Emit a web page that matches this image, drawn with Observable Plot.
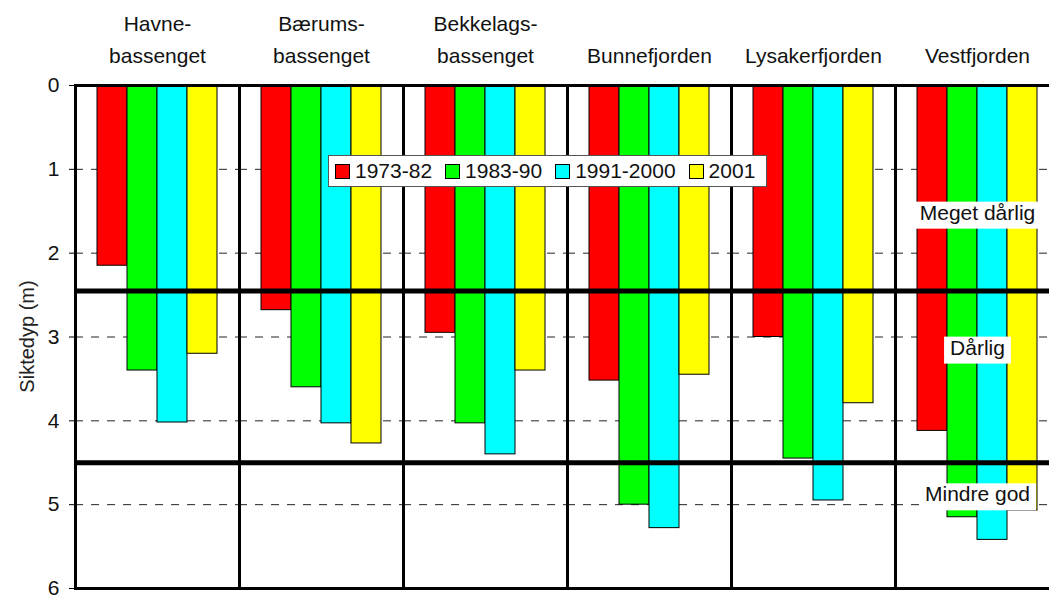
<!DOCTYPE html>
<html><head><meta charset="utf-8">
<script src="https://cdn.jsdelivr.net/npm/d3@7"></script>
<script src="https://cdn.jsdelivr.net/npm/@observablehq/plot@0.6"></script>
<style>
html,body{margin:0;padding:0;background:#fff;overflow:hidden;}
#chart{position:relative;width:1049px;height:597px;overflow:hidden;font-family:Arial,"Liberation Sans",sans-serif;}
#chart svg{overflow:hidden;}
.legend{position:absolute;left:328px;top:155px;height:30px;border:1px solid #555;background:#fff;display:flex;align-items:center;gap:13px;padding:0 11px 0 6px;font-size:21px;color:#111;}
.legend .item{display:flex;align-items:center;gap:5px;}
.legend .sw{width:13px;height:13px;border:1px solid #000;}
</style></head><body><div id="chart"></div>
<script>
const sites = ["Havnebassenget","Bærumsbassenget","Bekkelagsbassenget","Bunnefjorden","Lysakerfjorden","Vestfjorden"];
const siteLabels = ["Havne-\nbassenget","Bærums-\nbassenget","Bekkelags-\nbassenget","Bunnefjorden","Lysakerfjorden","Vestfjorden"];
const periods = ["1973-82","1983-90","1991-2000","2001"];
const colors = ["#ff0000","#00ff00","#00ffff","#ffff00"];
const v1973_82 = [2.15, 2.68, 2.95, 3.52, 3.00, 4.12];
const v1983_90 = [3.40, 3.60, 4.03, 5.00, 4.45, 5.15];
const v1991_2000 = [4.02, 4.03, 4.40, 5.28, 4.95, 5.42];
const v2001 = [3.20, 4.27, 3.40, 3.45, 3.79, 5.07];
const yTicks = [0,1,2,3,4,5,6];
const gridTicks = [1,2,3,4,5];
const classLimits = [2.45, 4.5];
const classLabels = ["Meget dårlig","Dårlig","Mindre god"];
const classLabelDepth = [1.52, 3.13, 4.88];
const yLabel = "Siktedyp (m)";

const series = [v1973_82, v1983_90, v1991_2000, v2001];
const rows = [];
sites.forEach((s,i) => periods.forEach((p,j) => rows.push({site:s, period:p, value:series[j][i]})));
const labelOf = new Map(sites.map((s,i)=>[s, siteLabels[i]]));

const plot = Plot.plot({
  width: 1049, height: 597,
  marginLeft: 75, marginRight: -10, marginTop: 85, marginBottom: 9,
  style: {fontFamily: 'Arial, "Liberation Sans", sans-serif', fontSize: "21px", color: "#000", background: "#fff"},
  fx: {domain: sites, padding: 0, axis: null},
  x: {domain: periods, paddingInner: 0, paddingOuter: 0.733, axis: null},
  y: {domain: [0,6], reverse: true, label: null},
  color: {domain: periods, range: colors},
  marks: [
    Plot.axisY(yTicks, {tickSize: 6, tickPadding: 10, fontSize: 21, tickFormat: d => String(d), label: null, fill: "#111"}),
    Plot.ruleY(gridTicks, {stroke: "#222", strokeWidth: 1, strokeDasharray: "8,8"}),
    Plot.barY(rows, {fx: "site", x: "period", y: "value", fill: "period", stroke: "#000", strokeWidth: 1}),
    Plot.ruleY(classLimits, {stroke: "#000", strokeWidth: 5}),
    Plot.frame({stroke: "#000", strokeWidth: 3}),
    Plot.text(sites, {fx: d => d, text: d => labelOf.get(d), frameAnchor: "top", lineAnchor: "bottom", dy: -23, lineHeight: 1.52, fontSize: 21, fill: "#111"}),
    Plot.text(classLabels, {fx: () => sites[5], y: (d,i) => classLabelDepth[i], text: d => d, fontSize: 21, fill: "#111", className: "zone-labels"})
  ]
});
const chart = document.getElementById("chart");
chart.appendChild(plot);

const ns = "http://www.w3.org/2000/svg";
// y axis title, centred on the plot frame
const yTitle = document.createElementNS(ns, "text");
yTitle.textContent = yLabel;
yTitle.setAttribute("transform", `translate(34,${(85 + 588) / 2}) rotate(-90)`);
yTitle.setAttribute("text-anchor", "middle");
yTitle.setAttribute("font-size", "20");
yTitle.setAttribute("fill", "#222");
plot.appendChild(yTitle);

// white boxes behind zone labels, sized from the rendered text
const zoneTexts = Array.from(plot.querySelectorAll("text")).filter(t => classLabels.includes(t.textContent));
zoneTexts.forEach(t => {
  const b = t.getBBox();
  const r = document.createElementNS(ns, "rect");
  r.setAttribute("x", b.x - 6); r.setAttribute("y", b.y + 1);
  r.setAttribute("width", b.width + 12); r.setAttribute("height", b.height + 4);
  r.setAttribute("fill", "#fff");
  if (t.getAttribute("transform")) r.setAttribute("transform", t.getAttribute("transform"));
  t.parentNode.insertBefore(r, t);
});

// legend
const lg = document.createElement("div");
lg.className = "legend";
periods.forEach((p,i) => {
  const it = document.createElement("div"); it.className = "item";
  const sw = document.createElement("div"); sw.className = "sw"; sw.style.background = colors[i];
  const tx = document.createElement("span"); tx.textContent = p;
  it.appendChild(sw); it.appendChild(tx); lg.appendChild(it);
});
chart.appendChild(lg);
</script></body></html>
